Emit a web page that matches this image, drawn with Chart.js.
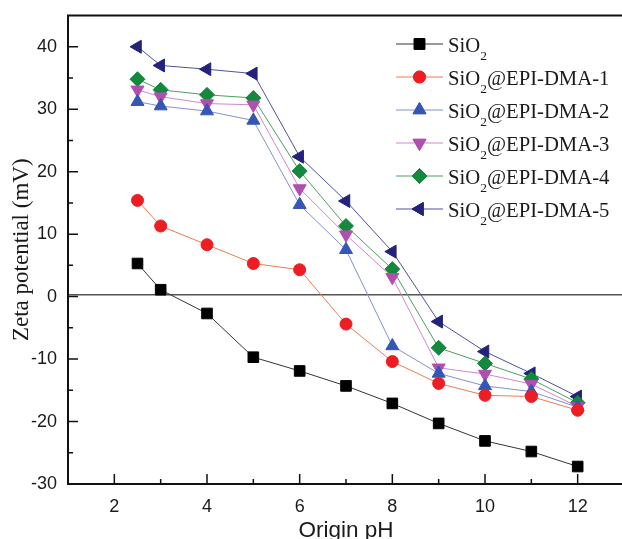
<!DOCTYPE html>
<html lang="en">
<head>
<meta charset="utf-8">
<title>Zeta potential vs origin pH</title>
<script src="https://cdn.jsdelivr.net/npm/chart.js@4.4.0/dist/chart.umd.min.js"></script>
<style>
  html, body { margin: 0; padding: 0; background: #fff; overflow: hidden; width: 622px; height: 539px; }
  #zeta { display: block; }
</style>
</head>
<body>
<canvas id="zeta" width="640" height="539"></canvas>
<script>
// pH values and measured zeta potentials (mV)
const phValues = [2.5, 3, 4, 5, 6, 7, 8, 9, 10, 11, 12];
const sio2   = [5.3, 1.1, -2.7, -9.7, -11.9, -14.3, -17.1, -20.3, -23.1, -24.8, -27.2];
const dma1   = [15.4, 11.3, 8.3, 5.3, 4.3, -4.4, -10.4, -13.9, -15.8, -16.0, -18.2];
const dma2   = [31.2, 30.5, 29.7, 28.2, 14.7, 7.5, -7.9, -12.3, -14.3, -15.2, -17.7];
const dma3   = [33.1, 32.0, 30.9, 30.7, 17.3, 9.9, 3.1, -11.4, -12.4, -14.0, -17.6];
const dma4   = [34.8, 33.1, 32.3, 31.8, 20.1, 11.3, 4.4, -8.2, -10.7, -13.2, -17.0];
const dma5   = [40.0, 37.0, 36.4, 35.7, 22.4, 15.3, 7.2, -4.0, -8.8, -12.3, -16.0];
const zeroLine = 0.3;

const seriesNames = ['SiO2', 'SiO2@EPI-DMA-1', 'SiO2@EPI-DMA-2', 'SiO2@EPI-DMA-3', 'SiO2@EPI-DMA-4', 'SiO2@EPI-DMA-5'];
const seriesValues = [sio2, dma1, dma2, dma3, dma4, dma5];

// marker style per series: [shape, rotation, radius, fill, line]
const looks = [
  ['rect',     0,   7.5, '#000000', '#333333'],
  ['circle',   0,   6,   '#ee1d23', '#f07a52'],
  ['triangle', 0,   7.5, '#3556b5', '#8090d4'],
  ['triangle', 180, 7.5, '#b04fb0', '#cf86cf'],
  ['rectRot',  0,   7.5, '#14883c', '#4f9d5e'],
  ['triangle', -90, 7.5, '#23237a', '#5050a0']
];

const datasets = seriesValues.map((vals, i) => ({
  label: seriesNames[i],
  data: vals.map((v, j) => ({ x: phValues[j], y: v })),
  borderColor: looks[i][4],
  borderWidth: 1,
  pointStyle: looks[i][0],
  rotation: looks[i][1],
  pointRadius: looks[i][2],
  pointHoverRadius: looks[i][2],
  pointBackgroundColor: looks[i][3],
  pointBorderColor: looks[i][3],
  pointBorderWidth: 1,
  tension: 0
}));

// frame, inward ticks, zero line and legend
const decor = {
  id: 'decor',
  beforeDatasetsDraw(chart) {
    const { ctx, chartArea: a, scales: { y } } = chart;
    const yz = y.getPixelForValue(zeroLine);
    ctx.save();
    ctx.strokeStyle = '#555';
    ctx.lineWidth = 1.3;
    ctx.beginPath();
    ctx.moveTo(a.left, yz);
    ctx.lineTo(a.right, yz);
    ctx.stroke();
    ctx.restore();
  },
  afterDraw(chart) {
    const { ctx, chartArea: a, scales: { x, y } } = chart;
    ctx.save();
    ctx.strokeStyle = '#111';
    ctx.lineWidth = 2;
    ctx.strokeRect(a.left, a.top, a.right - a.left, a.bottom - a.top);

    ctx.lineWidth = 1.5;
    ctx.beginPath();
    for (let v = 2; v <= 12; v++) {
      const px = x.getPixelForValue(v);
      const len = v % 2 === 0 ? 10 : 5;
      ctx.moveTo(px, a.bottom);
      ctx.lineTo(px, a.bottom - len);
    }
    for (let v = -25; v <= 40; v += 5) {
      const py = y.getPixelForValue(v);
      const len = v % 10 === 0 ? 10 : 5;
      ctx.moveTo(a.left, py);
      ctx.lineTo(a.left + len, py);
    }
    ctx.stroke();

    // legend
    const lx = 396, lx2 = 443, tx = 448;
    const rowY = [44, 77, 110, 143, 176, 209];
    chart.data.datasets.forEach((ds, i) => {
      const ry = rowY[i];
      ctx.strokeStyle = ds.borderColor;
      ctx.lineWidth = 1;
      ctx.beginPath();
      ctx.moveTo(lx, ry);
      ctx.lineTo(lx2, ry);
      ctx.stroke();
      Chart.helpers.drawPoint(ctx, {
        pointStyle: ds.pointStyle, rotation: ds.rotation, radius: ds.pointRadius, borderWidth: 1
      }, (lx + lx2) / 2, ry);
      ctx.fillStyle = ds.pointBackgroundColor;
      ctx.strokeStyle = ds.pointBorderColor;
      ctx.fill();
      ctx.stroke();

      ctx.fillStyle = '#1a1a1a';
      ctx.textBaseline = 'alphabetic';
      ctx.textAlign = 'left';
      let cx = tx;
      ctx.font = '20.7px "Liberation Serif", "Times New Roman", serif';
      ctx.fillText('SiO', cx, ry + 8);
      cx += ctx.measureText('SiO').width;
      ctx.font = '13.5px "Liberation Serif", "Times New Roman", serif';
      ctx.fillText('2', cx, ry + 16);
      cx += ctx.measureText('2').width;
      const rest = ds.label.slice(4);
      if (rest) {
        ctx.font = '20.7px "Liberation Serif", "Times New Roman", serif';
        ctx.fillText(rest, cx, ry + 8);
      }
    });
    ctx.restore();
  }
};

// fixed axis boxes so the plot area sits where it should
function fixBox(s, size) {
  if (s.isHorizontal()) s.height = size; else s.width = size;
  s.paddingTop = 0; s.paddingBottom = 0; s.paddingLeft = 0; s.paddingRight = 0;
}

new Chart(document.getElementById('zeta'), {
  type: 'line',
  data: { datasets },
  plugins: [decor],
  options: {
    responsive: false,
    animation: false,
    events: [],
    layout: { padding: { top: 15.5, right: 16, left: 0, bottom: 0 } },
    plugins: { legend: { display: false }, tooltip: { enabled: false } },
    scales: {
      x: {
        type: 'linear',
        min: 1,
        max: 13,
        afterFit(s) { fixBox(s, 55); },
        grid: { display: false, drawTicks: false },
        border: { display: false },
        ticks: {
          stepSize: 1,
          autoSkip: false,
          maxRotation: 0,
          padding: 12,
          color: '#1a1a1a',
          font: { family: '"Liberation Sans", Arial, sans-serif', size: 18 },
          callback: v => (v % 2 === 0 ? v : '')
        },
        title: {
          display: true,
          text: 'Origin pH',
          color: '#1a1a1a',
          font: { family: '"Liberation Sans", Arial, sans-serif', size: 22.5, lineHeight: 1 },
          padding: { top: 0, bottom: -3 }
        }
      },
      y: {
        min: -30,
        max: 45,
        afterFit(s) { fixBox(s, 68); },
        grid: { display: false, drawTicks: false },
        border: { display: false },
        ticks: {
          stepSize: 5,
          autoSkip: false,
          padding: 11,
          color: '#1a1a1a',
          font: { family: '"Liberation Sans", Arial, sans-serif', size: 18 },
          callback: v => (v % 10 === 0 && v < 45 ? v : '')
        },
        title: {
          display: true,
          text: 'Zeta potential (mV)',
          color: '#1a1a1a',
          font: { family: '"Liberation Serif", "Times New Roman", serif', size: 23, lineHeight: 1.2 },
          padding: { top: 8, bottom: 0 }
        }
      }
    }
  }
});
</script>
</body>
</html>
